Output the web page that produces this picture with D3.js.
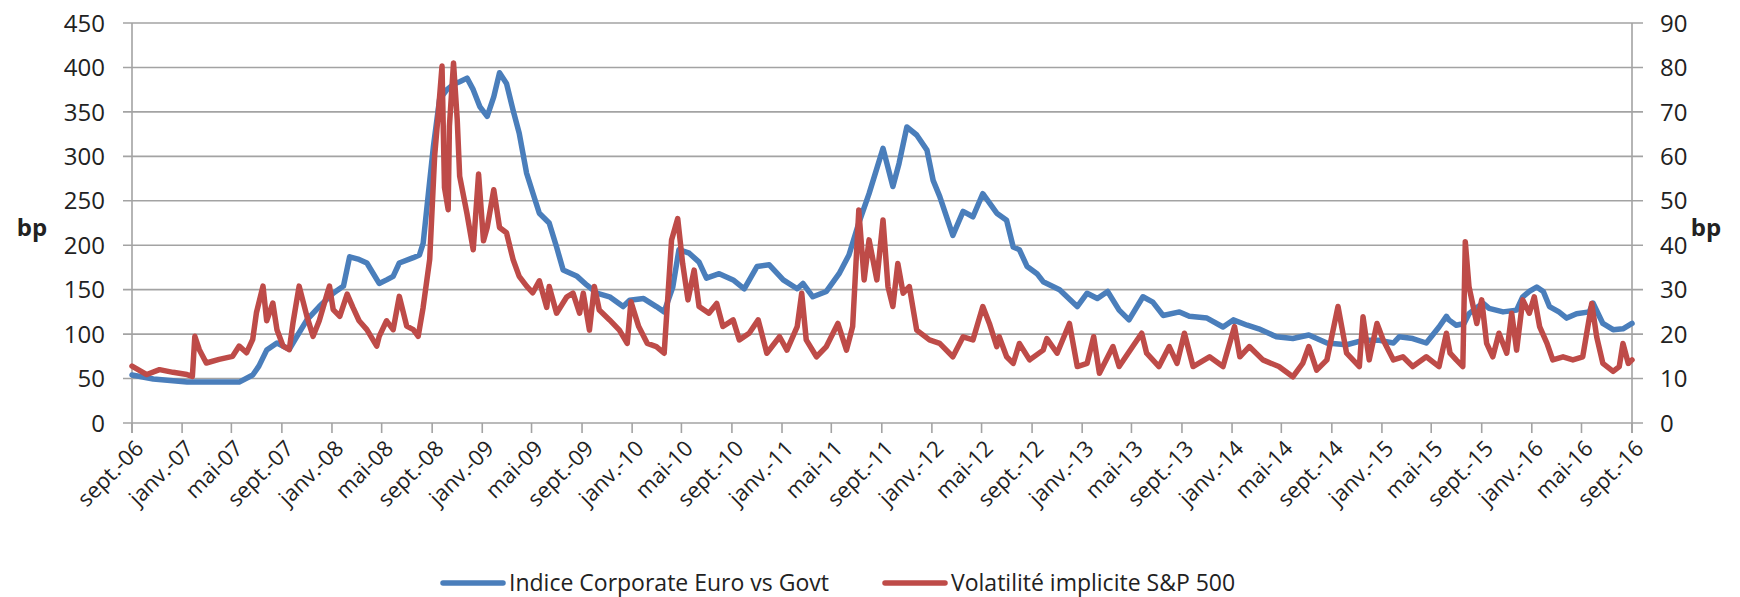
<!DOCTYPE html>
<html>
<head>
<meta charset="utf-8">
<script src="https://cdn.jsdelivr.net/npm/d3@7"></script>
<style>
  body { margin: 0; background: #fff; }
  text { font-family: "Open Sans", sans-serif; fill: #222; }
</style>
</head>
<body>
<svg id="chart"></svg>
<script>
// months elapsed since sept. 2006 (fractional) and values
const blueMonths = [0, 1.7, 4.4, 8.6, 9.7, 10.2, 10.8, 11.6, 12.6, 13.2, 14.0, 15.0, 16.1, 16.9, 17.4, 18.2, 18.8, 19.8, 20.4, 20.9,
  21.4, 22.5, 23.0, 23.3, 23.7, 24.1, 24.6, 25.2, 25.7, 26.2, 26.8, 27.3, 27.8, 28.4, 28.9, 29.4, 30.0, 30.5, 31.0, 31.6,
  32.1, 32.6, 33.4, 34.0, 34.5, 35.6, 36.4, 37.2, 38.2, 39.3, 39.8, 40.9, 42.0, 42.6, 43.3, 43.8, 44.6, 45.4, 46.0, 47.0,
  48.1, 49.0, 50.0, 51.0, 52.1, 53.2, 53.7, 54.5, 55.6, 56.6, 57.4, 58.2, 59.0, 60.1, 60.9, 61.4, 62.0, 62.8, 63.6, 64.1,
  64.6, 65.7, 66.5, 67.3, 68.1, 69.2, 70.0, 70.5, 71.0, 71.6, 72.4, 72.9, 74.2, 75.6, 76.4, 77.2, 78.1, 79.0, 79.8, 80.9,
  81.7, 82.5, 83.8, 84.6, 86.0, 87.3, 88.1, 89.2, 90.2, 91.6, 92.9, 94.2, 95.6, 97.2, 98.5, 99.8, 100.9, 101.4, 102.5, 103.6,
  104.6, 105.2, 105.4, 106.0, 106.6, 107.0, 108.1, 108.6, 109.7, 110.8, 111.3, 111.8, 112.4, 112.9, 113.4, 114.2, 114.8, 115.6, 116.6, 116.9,
  117.7, 118.5, 119.3, 120.0];
const blueValues = [54, 49.5, 46, 46, 54, 64, 82, 90, 83, 97, 116, 131, 146, 154, 187, 184, 180, 157, 161, 165,
  180, 186, 189, 202, 259, 311, 364, 375, 381, 384, 388, 375, 356, 345, 367, 394, 382, 352, 326, 281,
  259, 236, 225, 198, 172, 165, 155, 146, 142, 131, 138, 140, 131, 125, 153, 195, 191, 181, 163, 168,
  161, 151, 176, 178, 161, 151, 157, 142, 148, 168, 189, 225, 258, 309, 266, 292, 333, 324, 307, 273,
  255, 211, 238, 232, 258, 236, 228, 198, 195, 176, 168, 159, 150, 131, 146, 140, 148, 127, 116, 142,
  136, 121, 125, 120, 118, 108, 116, 110, 106, 97, 95, 99, 90, 88, 93, 93, 90, 97, 95, 90,
  108, 120, 116, 110, 112, 123, 135, 129, 125, 127, 142, 148, 153, 148, 131, 125, 118, 123, 125, 135,
  112, 105, 106, 112];

const redMonths = [0, 1.2, 2.2, 3.3, 4.4, 4.8, 5.0, 5.4, 6.0, 7.0, 8.1, 8.6, 9.2, 9.7, 10.0, 10.5, 10.8, 11.3, 11.6, 12.1,
  12.6, 12.9, 13.4, 14.0, 14.5, 15.0, 15.6, 15.8, 16.1, 16.6, 17.2, 17.7, 18.2, 18.8, 19.6, 19.8, 20.4, 20.9, 21.4, 22.0,
  22.5, 22.9, 23.3, 23.8, 24.2, 24.5, 24.8, 25.0, 25.3, 25.4, 25.7, 26.0, 26.2, 26.8, 27.3, 27.7, 28.1, 28.4, 28.9, 29.4,
  30.0, 30.5, 31.0, 31.6, 32.1, 32.6, 33.2, 33.4, 34.0, 34.8, 35.3, 35.8, 36.1, 36.6, 37.0, 37.4, 38.2, 39.0, 39.6, 39.9,
  40.5, 41.2, 42.0, 42.6, 43.2, 43.7, 44.1, 44.5, 45.0, 45.4, 46.2, 46.8, 47.3, 48.1, 48.6, 49.4, 50.1, 50.8, 51.8, 52.4,
  53.2, 53.6, 54.0, 54.8, 55.6, 56.5, 57.2, 57.7, 58.2, 58.6, 59.0, 59.6, 60.1, 60.5, 60.9, 61.3, 61.7, 62.2, 62.8, 63.8,
  64.6, 65.7, 66.5, 67.3, 68.1, 68.6, 69.2, 69.4, 70.0, 70.5, 71.0, 71.8, 72.9, 73.2, 74.0, 75.0, 75.6, 76.4, 76.9, 77.4,
  78.5, 79.0, 80.1, 80.8, 81.2, 82.2, 83.0, 83.6, 84.2, 84.9, 86.2, 87.3, 88.2, 88.6, 89.4, 90.5, 91.8, 92.9, 93.7, 94.2,
  94.8, 95.6, 96.5, 97.2, 98.2, 98.5, 99.0, 99.6, 100.1, 100.9, 101.7, 102.5, 103.6, 104.6, 105.2, 105.5, 106.0, 106.5, 106.7, 107.0,
  107.6, 108.0, 108.4, 108.9, 109.4, 110.0, 110.4, 110.8, 111.3, 111.8, 112.2, 112.6, 113.2, 113.7, 114.5, 115.3, 116.1, 116.8, 117.2, 117.7,
  118.5, 119.0, 119.3, 119.7, 120.0];
const redValues = [12.8, 10.9, 12, 11.4, 10.9, 10.5, 19.5, 16.5, 13.5, 14.3, 15, 17.3, 15.8, 18.8, 24.8, 30.8, 23, 27, 21, 17.3,
  16.5, 22.5, 30.8, 24, 19.5, 23, 29, 30.8, 25.5, 24, 29, 26, 23, 21, 17.3, 19.5, 23, 21, 28.5, 21.8,
  21, 19.5, 26, 36.8, 60, 69.8, 80.3, 53, 48, 66.8, 81, 68.3, 55.5, 47, 39, 56, 41, 44, 52.5, 44,
  42.8, 36.8, 33, 30.8, 29.3, 32, 26, 30.7, 24.7, 28.4, 29.2, 24.7, 29.2, 20.9, 30.7, 25.4, 23.2, 20.9, 17.9, 27.3,
  21.7, 17.9, 17.2, 15.7, 41.2, 46, 35.9, 27.7, 34.4, 26.2, 24.7, 26.9, 21.7, 23.2, 18.7, 20.2, 23.2, 15.7, 19.4, 16.4,
  21.7, 29.2, 18.7, 14.9, 17.2, 22.4, 16.4, 21.7, 47.9, 32.2, 41.2, 32.2, 45.7, 30.7, 26.2, 35.9, 29.2, 30.7, 20.9, 18.7,
  17.9, 14.9, 19.4, 18.7, 26.2, 22.4, 17.2, 19.4, 14.9, 13.4, 17.9, 14.2, 16.4, 19, 15.7, 22.4, 12.7, 13.4, 19.4, 11.2,
  17.2, 12.7, 17.2, 20.2, 15.7, 12.7, 17.2, 13.4, 20.2, 12.7, 14.9, 12.7, 21.7, 14.9, 17.2, 14.2, 12.7, 10.4, 13.4, 17.2,
  11.9, 14.2, 26.2, 15.7, 12.7, 23.9, 14.2, 22.4, 18.7, 14.2, 14.9, 12.7, 14.9, 12.7, 20.2, 15.7, 14.2, 12.7, 40.8, 30.7,
  22.4, 27.7, 17.9, 14.9, 20.2, 15.7, 24.7, 16.4, 27.7, 24.7, 28.4, 21.7, 17.9, 14.2, 14.9, 14.2, 14.9, 26.9, 19.4, 13.4,
  11.6, 12.7, 17.9, 13.4, 14.2];

const leftTicks = [0, 50, 100, 150, 200, 250, 300, 350, 400, 450];
const rightTicks = [0, 10, 20, 30, 40, 50, 60, 70, 80, 90];
const monthLabels = { 0: "janv.", 4: "mai", 8: "sept." };
const seriesNames = ["Indice Corporate Euro vs Govt", "Volatilité implicite S&P 500"];
const seriesColors = ["#4a7ebb", "#be4b48"];

const W = 1740, H = 597;
const margin = { top: 23, right: 108, bottom: 174, left: 132 };
const width = W - margin.left - margin.right;
const height = H - margin.top - margin.bottom;

const toDate = m => {
  const whole = Math.floor(m);
  const d = new Date(2006, 8 + whole, 1);
  const days = d3.timeDay.count(d, d3.timeMonth.offset(d, 1));
  return d3.timeDay.offset(d, Math.round((m - whole) * days));
};

const svg = d3.select("#chart").attr("width", W).attr("height", H);
const g = svg.append("g").attr("transform", `translate(${margin.left},${margin.top})`);

const x = d3.scaleTime().domain([new Date(2006, 8, 1), new Date(2016, 8, 1)]).range([0, width]);
const yL = d3.scaleLinear().domain([0, 450]).range([height, 0]);
const yR = d3.scaleLinear().domain([0, 90]).range([height, 0]);

// gridlines with outer ticks on both sides
g.append("g").selectAll("line")
  .data(leftTicks)
  .join("line")
  .attr("x1", -9).attr("x2", width + 11)
  .attr("y1", d => yL(d)).attr("y2", d => yL(d))
  .attr("stroke", "#a3a3a3").attr("stroke-width", 1.6);

g.append("line").attr("x1", 0).attr("x2", 0).attr("y1", 0).attr("y2", height + 10)
  .attr("stroke", "#a3a3a3").attr("stroke-width", 1.6);
g.append("line").attr("x1", width).attr("x2", width).attr("y1", 0).attr("y2", height + 10)
  .attr("stroke", "#a3a3a3").attr("stroke-width", 1.6);

const xTicks = d3.timeMonth.every(4).range(new Date(2006, 8, 1), new Date(2016, 8, 2));
g.append("g").selectAll("line")
  .data(xTicks)
  .join("line")
  .attr("x1", d => x(d)).attr("x2", d => x(d))
  .attr("y1", height).attr("y2", height + 10)
  .attr("stroke", "#a3a3a3").attr("stroke-width", 1.6);

g.append("g").selectAll("text")
  .data(xTicks)
  .join("text")
  .attr("transform", d => `translate(${x(d) + 2},${height + 16}) rotate(-45)`)
  .attr("text-anchor", "end")
  .attr("dy", "0.7em")
  .style("font-size", "22px")
  .text(d => monthLabels[d.getMonth()] + "-" + d3.timeFormat("%y")(d));

g.append("g").selectAll("text")
  .data(leftTicks)
  .join("text")
  .attr("x", -27).attr("y", d => yL(d))
  .attr("dy", "0.36em")
  .attr("text-anchor", "end")
  .style("font-size", "24px")
  .text(d => d);

g.append("g").selectAll("text")
  .data(rightTicks)
  .join("text")
  .attr("x", width + 28).attr("y", d => yR(d))
  .attr("dy", "0.36em")
  .style("font-size", "24px")
  .text(d => d);

svg.append("text").attr("x", 32).attr("y", 227).attr("text-anchor", "middle").attr("dy", "0.36em")
  .style("font-size", "24px").style("font-weight", "bold").text("bp");
svg.append("text").attr("x", 1706).attr("y", 227).attr("text-anchor", "middle").attr("dy", "0.36em")
  .style("font-size", "24px").style("font-weight", "bold").text("bp");

const lineL = d3.line().x(d => x(toDate(d[0]))).y(d => yL(d[1]));
const lineR = d3.line().x(d => x(toDate(d[0]))).y(d => yR(d[1]));

g.append("path")
  .datum(d3.zip(blueMonths, blueValues))
  .attr("d", lineL)
  .attr("fill", "none").attr("stroke", seriesColors[0])
  .attr("stroke-width", 5.5).attr("stroke-linejoin", "round").attr("stroke-linecap", "round");

g.append("path")
  .datum(d3.zip(redMonths, redValues))
  .attr("d", lineR)
  .attr("fill", "none").attr("stroke", seriesColors[1])
  .attr("stroke-width", 5.5).attr("stroke-linejoin", "round").attr("stroke-linecap", "round");

// legend
const legendX = [443, 885];
const legend = svg.append("g").selectAll("g")
  .data(seriesNames)
  .join("g")
  .attr("transform", (d, i) => `translate(${legendX[i]},583)`);
legend.append("line")
  .attr("x1", 0).attr("x2", 60)
  .attr("stroke", (d, i) => seriesColors[i]).attr("stroke-width", 5.5).attr("stroke-linecap", "round");
legend.append("text")
  .attr("x", 66).attr("dy", "0.36em")
  .style("font-size", "23px")
  .text(d => d);
</script>
</body>
</html>
